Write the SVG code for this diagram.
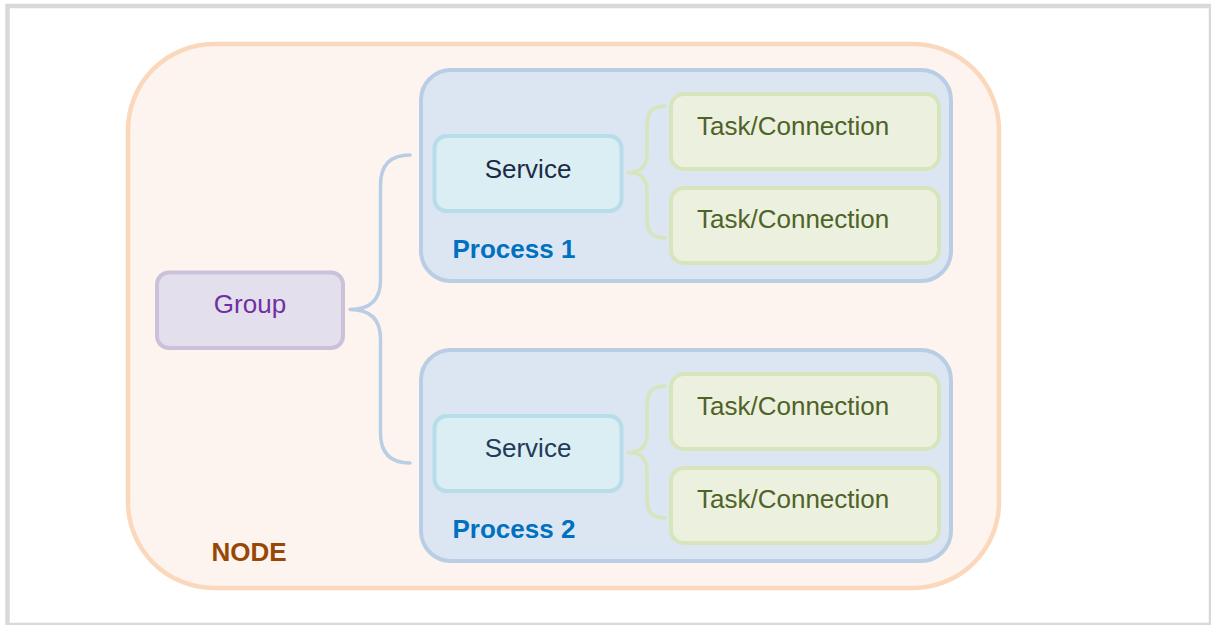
<svg xmlns="http://www.w3.org/2000/svg" width="1211" height="625" viewBox="0 0 1211 625">
<style>
text{font-family:"Liberation Sans",Arial,sans-serif;font-size:26px}
.node{fill:#fdf4ef;stroke:#fbd8bc;stroke-width:4.5}
.proc{fill:#dce6f2;stroke:#b9cde4;stroke-width:4}
.svc{fill:#dbeef4;stroke:#b7dde8;stroke-width:4}
.task{fill:#ebf1de;stroke:#d7e4bc;stroke-width:4}
.grp{fill:#e4dfec;stroke:#ccc1da;stroke-width:4}
.ttask{fill:#4f6228}
.tsvc{fill:#1c2b45;text-anchor:middle}
.tproc{fill:#0070c0;font-weight:bold}
.conn{fill:none;stroke-width:3.5;stroke-linecap:round;stroke-linejoin:round}
</style>
<rect x="0" y="0" width="1211" height="625" fill="#ffffff"/>
<rect x="7.5" y="6" width="1203.5" height="619" fill="#ffffff" stroke="#d9d9d9" stroke-width="4.5"/>
<g id="node">
<rect class="node" x="128" y="44" width="871" height="544" rx="86"/>
<text x="211.5" y="561" style="fill:#974706;font-weight:bold">NODE</text>
</g>
<g id="process1">
<rect class="proc" x="421" y="70" width="530" height="211" rx="30"/>
<text class="tproc" x="452.5" y="258">Process 1</text>
</g>
<g id="process2">
<rect class="proc" x="421" y="350" width="530" height="211" rx="30"/>
<text class="tproc" x="452.5" y="538">Process 2</text>
</g>
<g id="group">
<rect class="grp" x="157" y="272.5" width="186" height="75.5" rx="12"/>
<text x="250" y="313" style="fill:#7030a0;text-anchor:middle">Group</text>
</g>
<g id="service1">
<rect class="svc" x="434.5" y="136" width="187" height="75" rx="12"/>
<text class="tsvc" x="528" y="178">Service</text>
</g>
<g id="service2">
<rect class="svc" x="434.5" y="416" width="187" height="75" rx="12"/>
<text class="tsvc" x="528" y="457" style="fill:#243a58">Service</text>
</g>
<g id="task1">
<rect class="task" x="671" y="94" width="268" height="75" rx="13"/>
<text class="ttask" x="697" y="135">Task/Connection</text>
</g>
<g id="task2">
<rect class="task" x="671" y="188" width="268" height="75" rx="13"/>
<text class="ttask" x="697" y="228">Task/Connection</text>
</g>
<g id="task3">
<rect class="task" x="671" y="374" width="268" height="75" rx="13"/>
<text class="ttask" x="697" y="415">Task/Connection</text>
</g>
<g id="task4">
<rect class="task" x="671" y="468" width="268" height="75" rx="13"/>
<text class="ttask" x="697" y="508">Task/Connection</text>
</g>
<g id="connectors">
<path class="conn" stroke="#b9cde4" d="M410,155 Q380.5,155 380.5,185 L380.5,280 Q380.5,309.5 350,309.5 Q380.5,309.5 380.5,339 L380.5,433 Q380.5,463 410,463"/>
<path class="conn" stroke="#d7e4bc" d="M665,106 Q647,106 647,124 L647,154 Q647,172.5 628,172.5 Q647,172.5 647,191 L647,220 Q647,238 665,238"/>
<path class="conn" stroke="#d7e4bc" d="M665,386 Q647,386 647,404 L647,434 Q647,452.5 628,452.5 Q647,452.5 647,471 L647,500 Q647,518 665,518"/>
</g>
</svg>
